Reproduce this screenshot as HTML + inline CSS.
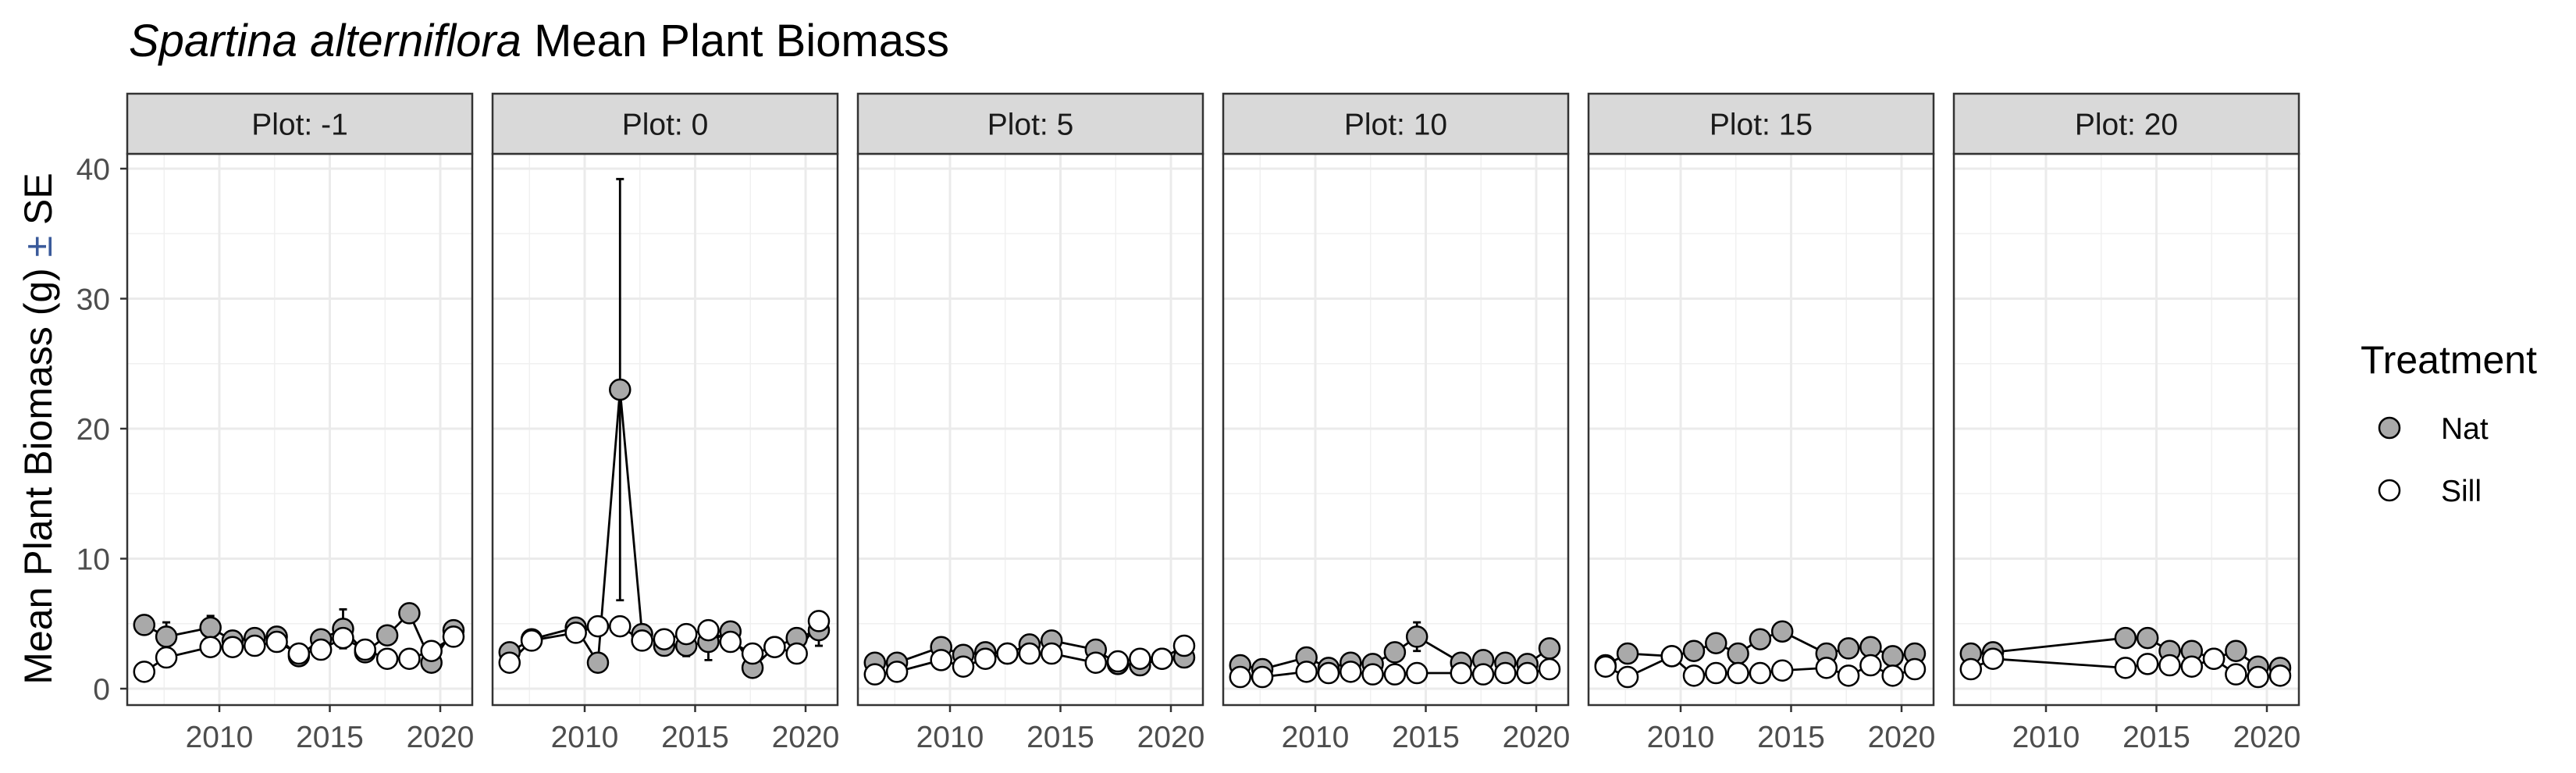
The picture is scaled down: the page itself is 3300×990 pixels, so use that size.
<!DOCTYPE html>
<html><head><meta charset="utf-8">
<style>
html,body{margin:0;padding:0;background:#fff;}
svg{display:block;font-family:"Liberation Sans",Arial,sans-serif;}
</style></head>
<body>
<svg id="chart" width="3300" height="990" viewBox="0 0 3300 990" xmlns="http://www.w3.org/2000/svg">
<text x="165" y="72" font-size="58" fill="#000"><tspan font-style="italic">Spartina alterniflora</tspan> Mean Plant Biomass</text>
<text transform="translate(66,549) rotate(-90)" text-anchor="middle" font-size="50" fill="#000">Mean Plant Biomass (g) <tspan fill="#3a5a9a">±</tspan> SE</text>
<g id="panels"></g>
<g>
<text x="3024" y="478" font-size="50" fill="#000">Treatment</text>
<g>
<circle cx="3061" cy="548" r="13" fill="#a9a9a9" stroke="#000" stroke-width="2.5"/>
<text x="3127" y="562" font-size="39" fill="#000">Nat</text></g>
<g>
<circle cx="3061" cy="628" r="13" fill="#fff" stroke="#000" stroke-width="2.5"/>
<text x="3127" y="642" font-size="39" fill="#000">Sill</text></g>
</g>
</svg>
<script>
const plotLabels = ["Plot: -1","Plot: 0","Plot: 5","Plot: 10","Plot: 15","Plot: 20"];
const yTicks = [0,10,20,30,40];
const xTicks = [2010,2015,2020];
const years = [
 [2006.6,2007.6,2009.6,2010.6,2011.6,2012.6,2013.6,2014.6,2015.6,2016.6,2017.6,2018.6,2019.6,2020.6],
 [2006.6,2007.6,2009.6,2010.6,2011.6,2012.6,2013.6,2014.6,2015.6,2016.6,2017.6,2018.6,2019.6,2020.6],
 [2006.6,2007.6,2009.6,2010.6,2011.6,2012.6,2013.6,2014.6,2016.6,2017.6,2018.6,2019.6,2020.6],
 [2006.6,2007.6,2009.6,2010.6,2011.6,2012.6,2013.6,2014.6,2016.6,2017.6,2018.6,2019.6,2020.6],
 [2006.6,2007.6,2009.6,2010.6,2011.6,2012.6,2013.6,2014.6,2016.6,2017.6,2018.6,2019.6,2020.6],
 [2006.6,2007.6,2013.6,2014.6,2015.6,2016.6,2017.6,2018.6,2019.6,2020.6]
];
const natMean = [
 [4.9,4.0,4.7,3.7,3.9,4.0,2.5,3.8,4.6,2.8,4.1,5.8,2.0,4.5],
 [2.8,3.8,4.7,2.0,23.0,4.2,3.3,3.3,3.6,4.4,1.6,3.2,3.9,4.5],
 [2.0,2.0,3.2,2.6,2.8,2.7,3.4,3.7,3.0,1.9,1.8,2.3,2.4],
 [1.8,1.5,2.4,1.6,2.0,1.9,2.8,4.0,2.0,2.2,2.0,1.9,3.1],
 [1.8,2.7,2.5,2.9,3.5,2.7,3.8,4.4,2.7,3.1,3.2,2.5,2.7],
 [2.7,2.8,3.9,3.9,2.9,2.9,2.3,2.9,1.7,1.6]
];
const natSE = [
 [0.5,1.1,0.9,0.4,0.5,0.4,0.4,0.6,1.5,0.4,0.4,0.4,0.4,0.4],
 [0.4,0.6,0.6,0.3,16.2,0.4,0.4,0.8,1.4,0.5,0.3,0.4,0.4,1.2],
 [0.3,0.3,0.4,0.3,0.4,0.3,0.4,0.6,0.4,0.3,0.3,0.3,0.4],
 [0.3,0.3,0.4,0.3,0.3,0.3,0.4,1.1,0.3,0.3,0.3,0.3,0.4],
 [0.3,0.4,0.3,0.4,0.4,0.4,0.5,0.7,0.4,0.4,0.4,0.4,0.4],
 [0.5,0.4,0.4,0.4,0.4,0.4,0.5,0.4,0.3,0.3]
];
const sillMean = [
 [1.3,2.4,3.2,3.2,3.3,3.6,2.7,3.0,3.9,3.0,2.3,2.3,2.9,4.0],
 [2.0,3.7,4.3,4.8,4.8,3.7,3.8,4.2,4.5,3.6,2.7,3.2,2.7,5.2],
 [1.1,1.3,2.2,1.7,2.3,2.7,2.7,2.7,2.0,2.1,2.3,2.3,3.3],
 [0.9,0.9,1.3,1.2,1.3,1.1,1.1,1.2,1.2,1.1,1.2,1.2,1.5],
 [1.7,0.9,2.5,1.0,1.2,1.2,1.2,1.4,1.6,1.0,1.8,1.0,1.5],
 [1.5,2.3,1.6,1.9,1.8,1.7,2.3,1.1,0.9,1.0]
];
const sillSE = [
 [0.2,0.3,0.3,0.3,0.3,0.3,0.3,0.3,0.4,0.3,0.2,0.2,0.3,0.4],
 [0.3,0.4,0.4,0.4,0.4,0.4,0.4,0.4,0.4,0.4,0.3,0.3,0.3,0.5],
 [0.2,0.2,0.3,0.2,0.3,0.3,0.3,0.3,0.3,0.3,0.3,0.3,0.3],
 [0.2,0.2,0.2,0.2,0.2,0.2,0.2,0.2,0.2,0.2,0.2,0.2,0.2],
 [0.2,0.2,0.3,0.2,0.2,0.2,0.2,0.2,0.2,0.2,0.2,0.2,0.2],
 [0.2,0.3,0.2,0.2,0.2,0.2,0.3,0.2,0.2,0.2]
];

const NS="http://www.w3.org/2000/svg";
const P0=163, PW=442, PSTEP=468, STRIP_TOP=120, TOP=197, BOT=903;
function yScale(v){return 882 - v*16.65;}
function xScale(i,yr){return P0+i*PSTEP+118+(yr-2010)*28.3;}
function mk(tag,attrs,parent){const e=document.createElementNS(NS,tag);for(const k in attrs)e.setAttribute(k,attrs[k]);parent.appendChild(e);return e;}
const root=document.getElementById('panels');
for(let i=0;i<plotLabels.length;i++){
  const L=P0+i*PSTEP;
  const g=mk('g',{},root);
  
  
  mk('rect',{x:L,y:TOP,width:PW,height:BOT-TOP,fill:'#fff'},g);
  for(let v=5;v<=35;v+=10){mk('line',{x1:L,x2:L+PW,y1:yScale(v),y2:yScale(v),stroke:'#f0f0f0','stroke-width':1.5},g);}
  [2007.5,2012.5,2017.5].forEach(yr=>{mk('line',{x1:xScale(i,yr),x2:xScale(i,yr),y1:TOP,y2:BOT,stroke:'#f0f0f0','stroke-width':1.5},g);});
  yTicks.forEach(v=>{mk('line',{x1:L,x2:L+PW,y1:yScale(v),y2:yScale(v),stroke:'#ebebeb','stroke-width':3},g);});
  xTicks.forEach(yr=>{mk('line',{x1:xScale(i,yr),x2:xScale(i,yr),y1:TOP,y2:BOT,stroke:'#ebebeb','stroke-width':3},g);});
  const series=[[natMean[i],natSE[i],'#a9a9a9','nat'],[sillMean[i],sillSE[i],'#ffffff','sill']];
  series.forEach(s=>{
    const pts=years[i].map((yr,j)=>xScale(i,yr)+','+yScale(s[0][j])).join(' ');
    const pl=mk('polyline',{points:pts,fill:'none',stroke:'#000','stroke-width':2.8},g);
    
    
  });
  series.forEach(s=>{
    years[i].forEach((yr,j)=>{
      const x=xScale(i,yr),m=s[0][j],se=s[1][j];
      const eb=mk('path',{d:`M${x-5},${yScale(m+se)}H${x+5}M${x},${yScale(m+se)}V${yScale(m-se)}M${x-5},${yScale(m-se)}H${x+5}`,stroke:'#000','stroke-width':2.8,fill:'none'},g);
      
      
    });
  });
  series.forEach(s=>{
    years[i].forEach((yr,j)=>{
      const c=mk('circle',{cx:xScale(i,yr),cy:yScale(s[0][j]),r:13,fill:s[2],stroke:'#000','stroke-width':2.5},g);
      
      
    });
  });
  mk('rect',{x:L,y:TOP,width:PW,height:BOT-TOP,fill:'none',stroke:'#333','stroke-width':2.5},g);
  const st=mk('rect',{x:L,y:STRIP_TOP,width:PW,height:TOP-STRIP_TOP,fill:'#d9d9d9',stroke:'#333','stroke-width':2.5},g);
  
  
  const t=mk('text',{x:L+PW/2,y:(STRIP_TOP+TOP)/2+14,'text-anchor':'middle','font-size':39,fill:'#1a1a1a'},g);
  t.textContent=plotLabels[i];
  
  
  xTicks.forEach(yr=>{
    const x=xScale(i,yr);
    mk('line',{x1:x,x2:x,y1:BOT,y2:BOT+9,stroke:'#333','stroke-width':2.5},g);
    const tl=mk('text',{x:x,y:BOT+54,'text-anchor':'middle','font-size':39,fill:'#4d4d4d'},g);
    tl.textContent=yr;
    
    
  });
  if(i===0){
    yTicks.forEach(v=>{
      mk('line',{x1:L-9,x2:L,y1:yScale(v),y2:yScale(v),stroke:'#333','stroke-width':2.5},g);
      const tl=mk('text',{x:L-22,y:yScale(v)+14,'text-anchor':'end','font-size':39,fill:'#4d4d4d'},g);
      tl.textContent=v;
      
      
    });
  }
}
</script>
</body></html>
